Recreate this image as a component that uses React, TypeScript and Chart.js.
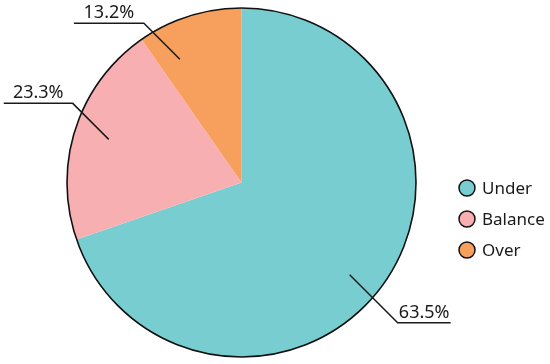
import React, { useEffect, useRef } from "react";
import { Chart, registerables } from "chart.js";

Chart.register(...registerables);

// ---- data ----
const categories = ["Under", "Balance", "Over"];
// slice shares as drawn in the picture (percent of the full circle)
const shares = [69.7, 20.6, 9.7];
// percentage texts printed beside the slices
const percentLabels = ["63.5%", "23.3%", "13.2%"];
const sliceColors = ["#77CDCF", "#F8AFB2", "#F79F5C"];

const FONT = '"Noto Sans", "DejaVu Sans", sans-serif';

// leader-line layout per slice (fraction along slice, radius fraction, diagonal, horizontal length)
const leaderLayout = [
  { frac: 0.52, r: 0.815, diag: 48, h: 53 },
  { frac: 0.5, r: 0.8, diag: 36, h: 69 },
  { frac: 0.24, r: 0.79, diag: 36, h: 70 },
];

const outlinePlugin = {
  id: "outline",
  afterDatasetsDraw(chart: any) {
    const arc = chart.getDatasetMeta(0).data[0];
    if (!arc) return;
    const { x, y, outerRadius } = arc.getProps(["x", "y", "outerRadius"], true);
    const ctx = chart.ctx;
    ctx.save();
    ctx.beginPath();
    ctx.arc(x, y, outerRadius, 0, Math.PI * 2);
    ctx.lineWidth = 1.6;
    ctx.strokeStyle = "#111111";
    ctx.stroke();
    ctx.restore();
  },
};

const leaderPlugin = {
  id: "leaders",
  afterDraw(chart: any) {
    const ctx = chart.ctx;
    const arcs = chart.getDatasetMeta(0).data;
    ctx.save();
    arcs.forEach((arc: any, i: number) => {
      const { x, y, outerRadius, startAngle, endAngle } = arc.getProps(
        ["x", "y", "outerRadius", "startAngle", "endAngle"],
        true
      );
      const lay = leaderLayout[i];
      const a = startAngle + lay.frac * (endAngle - startAngle);
      const px = x + Math.cos(a) * outerRadius * lay.r;
      const py = y + Math.sin(a) * outerRadius * lay.r;
      const dx = Math.cos(a) >= 0 ? 1 : -1;
      const dy = Math.sin(a) >= 0 ? 1 : -1;
      const ex = px + dx * lay.diag;
      const ey = py + dy * lay.diag;
      const hx = ex + dx * lay.h;
      ctx.beginPath();
      ctx.moveTo(px, py);
      ctx.lineTo(ex, ey);
      ctx.lineTo(hx, ey);
      ctx.lineWidth = 1.5;
      ctx.strokeStyle = "#1a1a1a";
      ctx.stroke();
      ctx.font = `18px ${FONT}`;
      ctx.fillStyle = "#1a1a1a";
      ctx.textAlign = "center";
      ctx.textBaseline = "alphabetic";
      ctx.fillText(percentLabels[i], (ex + hx) / 2, ey - 5);
    });
    ctx.restore();
  },
};

const legendPlugin = {
  id: "customLegend",
  afterDraw(chart: any) {
    const ctx = chart.ctx;
    const area = chart.chartArea;
    const lx = area.right + 51;
    const ly = area.top + 180;
    const gap = 31;
    ctx.save();
    chart.data.labels.forEach((label: string, i: number) => {
      const cy = ly + i * gap;
      ctx.beginPath();
      ctx.arc(lx, cy, 8, 0, Math.PI * 2);
      ctx.fillStyle = sliceColors[i];
      ctx.fill();
      ctx.lineWidth = 1.5;
      ctx.strokeStyle = "#111111";
      ctx.stroke();
      ctx.font = `17px ${FONT}`;
      ctx.fillStyle = "#1a1a1a";
      ctx.textAlign = "left";
      ctx.textBaseline = "middle";
      ctx.fillText(label, lx + 15, cy + 1);
    });
    ctx.restore();
  },
};

export default function App() {
  const ref = useRef<HTMLCanvasElement>(null);
  useEffect(() => {
    if (!ref.current) return;
    const chart = new Chart(ref.current, {
      type: "pie",
      data: {
        labels: categories,
        datasets: [
          {
            data: shares,
            backgroundColor: sliceColors,
            borderWidth: 0,
          },
        ],
      },
      options: {
        responsive: false,
        animation: false,
        layout: { padding: { left: 67, right: 134, top: 8, bottom: 7 } },
        plugins: {
          legend: { display: false },
          tooltip: { enabled: false },
        },
      },
      plugins: [outlinePlugin, leaderPlugin, legendPlugin],
    });
    return () => chart.destroy();
  }, []);
  return (
    <div style={{ position: "absolute", left: 0, top: 0, width: 550, height: 364, background: "#fff" }}>
      <canvas ref={ref} width={550} height={364} style={{ display: "block" }} />
    </div>
  );
}
